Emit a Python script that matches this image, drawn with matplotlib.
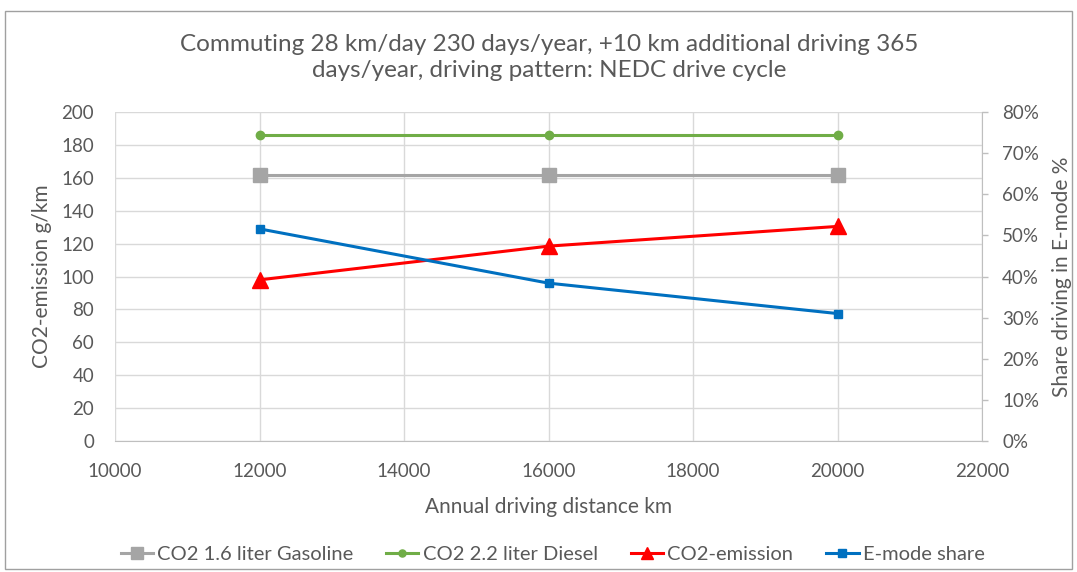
import numpy as np
import matplotlib.pyplot as plt
from matplotlib.patches import Rectangle

plt.rcParams['font.family'] = ['Lato', 'DejaVu Sans']

distance = [12000, 16000, 20000]
co2_gasoline = [162, 162, 162]
co2_diesel = [186, 186, 186]
co2_emission = [98, 118.5, 130.5]
emode_share = [51.6, 38.4, 31.0]

txt = '#595959'
grid = '#D9D9D9'

fig = plt.figure(figsize=(10.77, 5.72), dpi=100)
ax = fig.add_axes([0.1068, 0.229, 0.805, 0.575])
ax2 = ax.twinx()

l1, = ax.plot(distance, co2_gasoline, color='#A5A5A5', lw=2.2, marker='s', ms=10, label='CO2 1.6 liter Gasoline')
l2, = ax.plot(distance, co2_diesel, color='#70AD47', lw=2.2, marker='o', ms=6, label='CO2 2.2 liter Diesel')
l3, = ax.plot(distance, co2_emission, color='#FF0000', lw=2.2, marker='^', ms=11, label='CO2-emission')
l4, = ax2.plot(distance, emode_share, color='#0070C0', lw=2.2, marker='s', ms=6, label='E-mode share')

ax.set_xlim(10000, 22000)
ax.set_ylim(0, 200)
ax2.set_ylim(0, 80)
ax.set_xticks(np.arange(10000, 22001, 2000))
ax.set_yticks(np.arange(0, 201, 20))
ax2.set_yticks(np.arange(0, 81, 10))
ax2.set_yticklabels([f'{v}%' for v in range(0, 81, 10)])

ax.grid(True, color=grid, lw=1)
ax.set_axisbelow(True)
for a in (ax, ax2):
    for s in a.spines.values():
        s.set_visible(False)
    a.tick_params(length=0, labelsize=13.5, colors=txt)
ax.tick_params(axis='x', pad=16)
ax.tick_params(axis='y', pad=15)
ax2.tick_params(axis='y', length=4.5, width=1, color='#BFBFBF', pad=10)
ax.spines['bottom'].set_visible(True)
ax.spines['bottom'].set_color('#BFBFBF')
ax2.spines['right'].set_visible(True)
ax2.spines['right'].set_color('#BFBFBF')

ax.set_xlabel('Annual driving distance km', fontsize=15, color=txt, labelpad=12)
ax.set_ylabel('CO2-emission g/km', fontsize=15, color=txt, labelpad=7)
ax2.set_ylabel('Share driving in E-mode %', fontsize=15, color=txt, labelpad=9)

fig.text(0.51, 0.9, 'Commuting 28 km/day 230 days/year, +10 km additional driving 365\ndays/year, driving pattern: NEDC drive cycle',
         ha='center', va='center', fontsize=17.5, color=txt, linespacing=1.3)

fig.legend(handles=[l1, l2, l3, l4], loc='center', bbox_to_anchor=(0.513, 0.031), ncol=4,
           frameon=False, fontsize=14.5, labelcolor=txt, handlelength=1.6, handletextpad=0.2,
           columnspacing=1.65, markerscale=0.85)

fig.patches.append(Rectangle((0.005, 0.006), 0.99, 0.975, transform=fig.transFigure,
                             fill=False, edgecolor='#A0A0A0', lw=1))

fig.savefig('out.png', dpi=100)
